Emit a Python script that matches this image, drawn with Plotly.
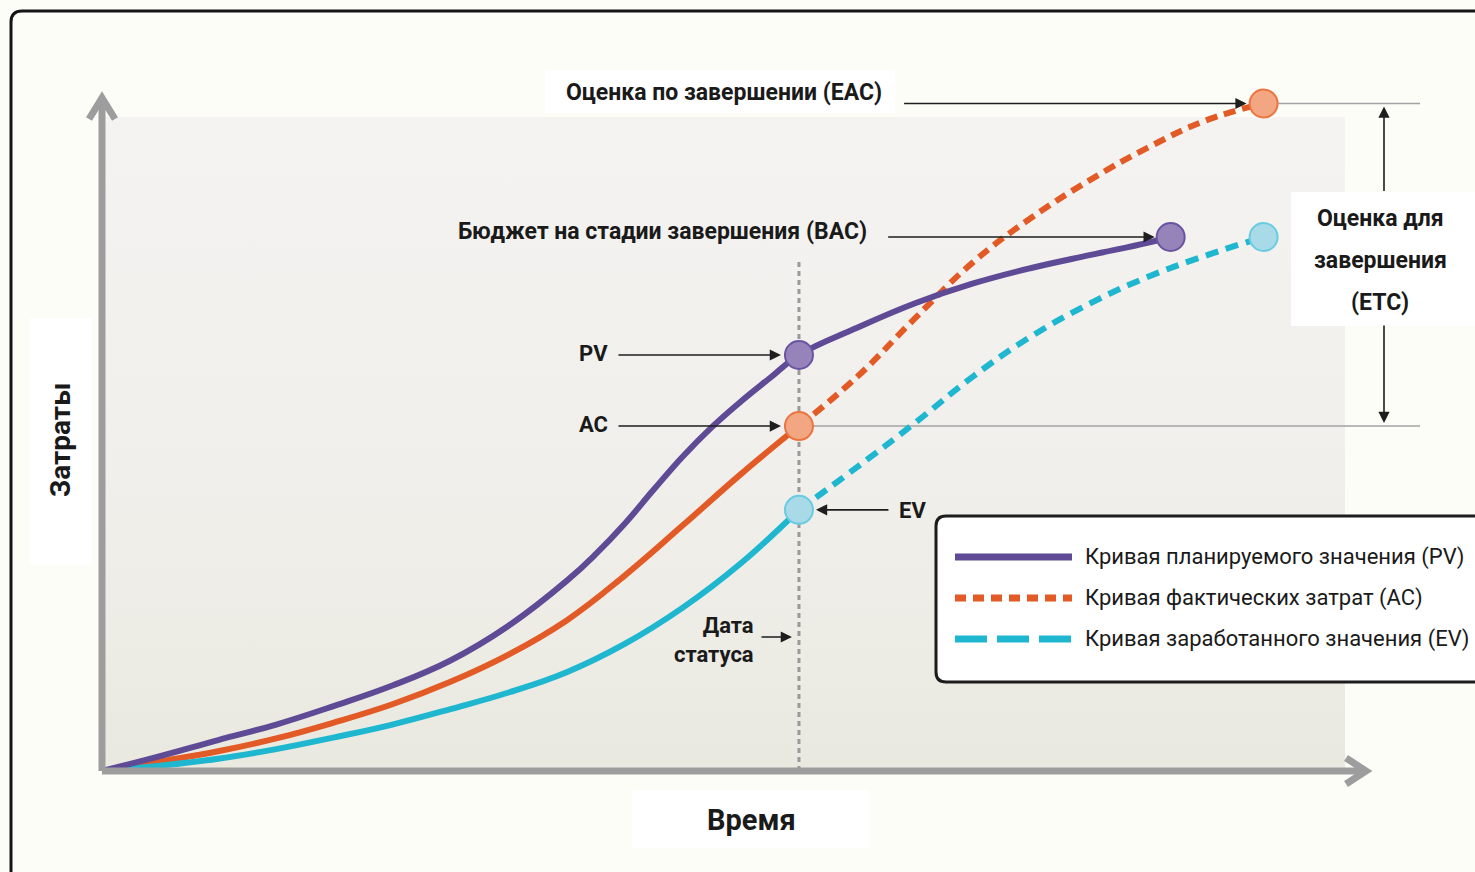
import plotly.graph_objects as go

W, H = 1475, 872

# ---- data: time in months, cost in % of the budget (BAC = 100) ----
STATUS_DATE = 12
plan_months = [0, 1, 2, 3, 4, 5, 6, 7, 8, 8.5, 9, 9.5, 10, 10.5, 11, 11.5, 12,
               13, 14, 15, 16, 17, 18, 18.4]
pv_values = [0, 2.8, 5.8, 8.7, 12.2, 16.0, 20.7, 27.2, 35.6, 40.6, 46.3, 52.7,
             58.9, 64.4, 69.2, 73.6, 77.9, 83.0, 87.6, 91.3, 94.2, 96.6, 98.9, 100.0]

to_date_months = list(range(0, 13))
ac_to_date = [0, 1.8, 3.7, 6.1, 9.1, 12.5, 16.7, 21.8, 28.2, 36.6, 46.0, 55.6, 64.6]
ev_to_date = [0, 1.0, 2.3, 4.1, 6.3, 8.7, 11.6, 14.7, 18.5, 23.8, 30.6, 38.9, 48.9]

forecast_months = list(range(12, 21))
ac_forecast = [64.6, 73.8, 84.8, 95.3, 103.6, 110.6, 116.7, 121.8, 125.0]
ev_forecast = [48.9, 56.9, 65.2, 73.9, 81.4, 87.5, 92.5, 96.5, 100.0]

legend_labels = ["Кривая планируемого значения (PV)",
                 "Кривая фактических затрат (AC)",
                 "Кривая заработанного значения (EV)"]

# ---- styling ----
PURPLE, ORANGE, CYAN = "#5F4A96", "#E25A25", "#1FB6D0"
PURPLE_DOT, ORANGE_DOT, CYAN_DOT = "#9683BA", "#F2A681", "#A8DAE7"
PURPLE_RIM, ORANGE_RIM, CYAN_RIM = "#6A54A2", "#EC7440", "#6ACCE1"
AXIS_GREY = "#9D9D9D"
GUIDE_GREY = "#A3A3A3"
TEXT = "#1A1A1A"
PAPER = "#FDFDF8"
FONT = "Roboto, Liberation Sans, sans-serif"

# pixel geometry of the plotting frame
ORIGIN_X, ORIGIN_Y = 102, 771
PX_PER_MONTH = 58.08
PX_PER_UNIT = 5.34

x_range = [-ORIGIN_X / PX_PER_MONTH, (W - ORIGIN_X) / PX_PER_MONTH]
y_range = [-(H - ORIGIN_Y) / PX_PER_UNIT, ORIGIN_Y / PX_PER_UNIT]


def to_month(px):
    return (px - ORIGIN_X) / PX_PER_MONTH


def to_unit(py):
    return (ORIGIN_Y - py) / PX_PER_UNIT


def paper_path(cmds):
    """Build an SVG path in paper units from pixel commands."""
    out = []
    for c in cmds:
        op, pts = c[0], c[1:]
        coords = " ".join(f"{x / W:.5f},{1 - y / H:.5f}" for x, y in pts)
        out.append(f"{op} {coords}")
    return " ".join(out)


def label(text, x, y, size, bold=True, anchor="center", angle=0, align="center"):
    return dict(xref="paper", yref="paper", x=x / W, y=1 - y / H,
                text=f"<b>{text}</b>" if bold else text, showarrow=False,
                xanchor=anchor, yanchor="middle", textangle=angle, align=align,
                font=dict(family=FONT, size=size, color=TEXT))


def arrow(x, y, ax, ay, standoff):
    return dict(x=x, y=y, xref="x", yref="y", ax=ax, ay=ay, text="",
                showarrow=True, arrowhead=2, arrowsize=1.4, arrowwidth=1.6,
                arrowcolor="#1E1E1E", standoff=standoff)


pv_now = pv_values[plan_months.index(STATUS_DATE)]
ac_now = ac_to_date[-1]
ev_now = ev_to_date[-1]
bac = pv_values[-1]
eac = ac_forecast[-1]
bac_month = plan_months[-1]
end_month = forecast_months[-1]

panel_right = to_month(1345)
panel_top = to_unit(117)
guide_end = to_month(1420)
etc_x = to_month(1384)

fig = go.Figure()

# background panel with a soft vertical gradient
fig.add_trace(go.Scatter(
    x=[0, panel_right, panel_right, 0, 0], y=[0, 0, panel_top, panel_top, 0],
    mode="lines", line=dict(width=0), fill="toself",
    fillgradient=dict(type="vertical",
                      colorscale=[[0, "#EAE9E0"], [0.45, "#F0EFEB"], [1, "#F4F3F1"]]),
    hoverinfo="skip", showlegend=False))

# status date marker line
fig.add_trace(go.Scatter(
    x=[STATUS_DATE, STATUS_DATE], y=[0, to_unit(262)], mode="lines",
    line=dict(color="#9A9A9A", width=3, dash="5px,4px"),
    hoverinfo="skip", showlegend=False))

# guide lines at the AC and EAC levels
for level, start in [(ac_now, STATUS_DATE), (eac, end_month)]:
    fig.add_trace(go.Scatter(
        x=[start, guide_end], y=[level, level], mode="lines",
        line=dict(color=GUIDE_GREY, width=1.5),
        hoverinfo="skip", showlegend=False))

SMOOTH = 1.2
# actual cost and earned value: solid to date, dashed forecast
fig.add_trace(go.Scatter(x=forecast_months, y=ac_forecast, mode="lines",
                         line=dict(color=ORANGE, width=6, dash="12px,7px",
                                   shape="spline", smoothing=SMOOTH),
                         showlegend=False))
fig.add_trace(go.Scatter(x=to_date_months, y=ac_to_date, mode="lines",
                         line=dict(color=ORANGE, width=6, shape="spline", smoothing=SMOOTH),
                         showlegend=False))
fig.add_trace(go.Scatter(x=forecast_months, y=ev_forecast, mode="lines",
                         line=dict(color=CYAN, width=6, dash="13px,8px",
                                   shape="spline", smoothing=SMOOTH),
                         showlegend=False))
fig.add_trace(go.Scatter(x=to_date_months, y=ev_to_date, mode="lines",
                         line=dict(color=CYAN, width=6, shape="spline", smoothing=SMOOTH),
                         showlegend=False))
# planned value
fig.add_trace(go.Scatter(x=plan_months, y=pv_values, mode="lines",
                         line=dict(color=PURPLE, width=6, shape="spline", smoothing=SMOOTH),
                         showlegend=False))

# key points
for xs, ys, fill, rim in [
    ([STATUS_DATE, bac_month], [pv_now, bac], PURPLE_DOT, PURPLE_RIM),
    ([STATUS_DATE, end_month], [ac_now, eac], ORANGE_DOT, ORANGE_RIM),
    ([STATUS_DATE, end_month], [ev_now, ev_forecast[-1]], CYAN_DOT, CYAN_RIM),
]:
    fig.add_trace(go.Scatter(x=xs, y=ys, mode="markers",
                             marker=dict(size=28, color=fill, line=dict(color=rim, width=2)),
                             showlegend=False))

shapes = []
# outer frame with a rounded corner
shapes.append(dict(type="path", xref="paper", yref="paper", layer="below",
                   path=paper_path([("M", (11, 880)), ("L", (11, 22)),
                                    ("Q", (11, 11), (22, 11)), ("L", (1490, 11))]),
                   line=dict(color="#151515", width=3)))
# white label backdrops
for x0, y0, x1, y1, layer in [(545, 70, 895, 113, "below"), (30, 318, 92, 565, "below"),
                              (632, 790, 870, 848, "below"), (1291, 192, 1480, 326, "above")]:
    shapes.append(dict(type="rect", xref="paper", yref="paper", layer=layer,
                       x0=x0 / W, x1=x1 / W, y0=1 - y1 / H, y1=1 - y0 / H,
                       fillcolor="#FFFFFF", line=dict(width=0)))

# axes with chevron heads
axis_top = to_unit(98)
axis_right = to_month(1366)
for p in [f"M 0,0 L 0,{axis_top}",
          f"M {-13 / PX_PER_MONTH},{axis_top - 21 / PX_PER_UNIT} L 0,{axis_top} "
          f"L {13 / PX_PER_MONTH},{axis_top - 21 / PX_PER_UNIT}",
          f"M 0,0 L {axis_right},0",
          f"M {axis_right - 20 / PX_PER_MONTH},{13 / PX_PER_UNIT} L {axis_right},0 "
          f"L {axis_right - 20 / PX_PER_MONTH},{-13 / PX_PER_UNIT}"]:
    shapes.append(dict(type="path", xref="x", yref="y", layer="above", path=p,
                       line=dict(color=AXIS_GREY, width=7)))

# legend box
shapes.append(dict(type="path", xref="paper", yref="paper", layer="above",
                   path=paper_path([("M", (1490, 516)), ("L", (946, 516)),
                                    ("Q", (936, 516), (936, 526)), ("L", (936, 672)),
                                    ("Q", (936, 682), (946, 682)), ("L", (1490, 682))]),
                   fillcolor="#FFFFFF", line=dict(color="#1C1C1C", width=3)))
legend_rows = [(557, PURPLE, "solid"), (598, ORANGE, "11px,7px"), (639, CYAN, "32px,10px")]
for y, color, dash in legend_rows:
    shapes.append(dict(type="line", xref="paper", yref="paper", layer="above",
                       x0=955 / W, x1=1072 / W, y0=1 - y / H, y1=1 - y / H,
                       line=dict(color=color, width=7, dash=dash)))

annotations = [
    label("Оценка по завершении (EAC)", 724, 92, 23),
    label("Бюджет на стадии завершения (BAC)", 662, 231, 23),
    label("PV", 593, 354, 22),
    label("AC", 593, 425, 22),
    label("EV", 912, 510, 22),
    label("Дата<br>статуса", 756, 640, 22, anchor="right", align="right"),
    label("Затраты", 60, 440, 28, angle=-90),
    label("Время", 752, 820, 29),
    label("Оценка для", 1380, 218, 23),
    label("завершения", 1380, 260, 23),
    label("(ETC)", 1380, 302, 23),
    arrow(end_month, eac, -361, 0, 17),
    arrow(bac_month, bac, -284, 0, 16),
    arrow(STATUS_DATE, pv_now, -182, 0, 18),
    arrow(STATUS_DATE, ac_now, -182, 0, 18),
    arrow(STATUS_DATE, ev_now, 91, 0, 17),
    arrow(STATUS_DATE, to_unit(637), -39, 0, 7),
    arrow(etc_x, eac, 0, 89, 3),
    arrow(etc_x, ac_now, 0, -102, 3),
]
for (y, _, _), text in zip(legend_rows, legend_labels):
    annotations.append(label(text, 1083, y, 22, bold=False, anchor="left"))

fig.update_layout(
    width=W, height=H, margin=dict(l=0, r=0, t=0, b=0),
    paper_bgcolor=PAPER, plot_bgcolor="rgba(0,0,0,0)",
    xaxis=dict(range=x_range, visible=False, fixedrange=True),
    yaxis=dict(range=y_range, visible=False, fixedrange=True),
    shapes=shapes, annotations=annotations, showlegend=False,
)

fig.write_html("out.html")
